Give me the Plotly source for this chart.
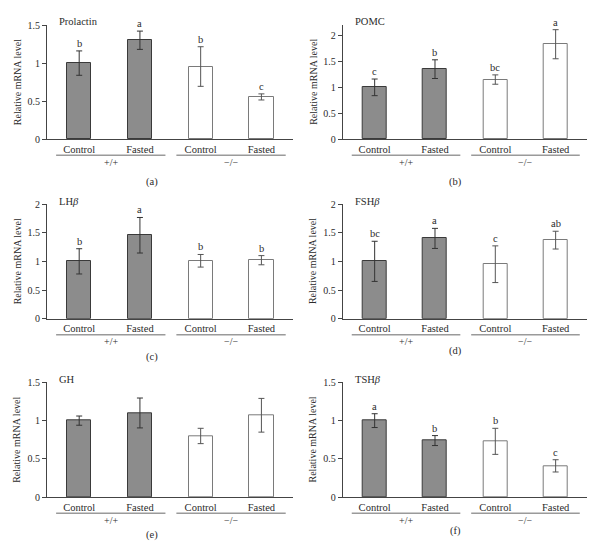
import plotly.graph_objects as go

# ---------------- data ----------------
categories = ["Control", "Fasted", "Control", "Fasted"]
genotypes = ["+/+", "\u2212/\u2212"]
panel_titles = ["Prolactin", "POMC", "LH<i>\u03b2</i>", "FSH<i>\u03b2</i>", "GH", "TSH<i>\u03b2</i>"]
panel_tags = ["(a)", "(b)", "(c)", "(d)", "(e)", "(f)"]

prolactin = [1.00, 1.30, 0.955, 0.556]
prolactin_err = [0.16, 0.12, 0.26, 0.04]
prolactin_sig = ["b", "a", "b", "c"]

pomc = [1.00, 1.35, 1.15, 1.83]
pomc_err = [0.16, 0.18, 0.09, 0.28]
pomc_sig = ["c", "b", "bc", "a"]

lhb = [1.00, 1.455, 1.01, 1.02]
lhb_err = [0.22, 0.31, 0.11, 0.08]
lhb_sig = ["b", "a", "b", "b"]

fshb = [1.00, 1.40, 0.95, 1.37]
fshb_err = [0.35, 0.175, 0.32, 0.155]
fshb_sig = ["bc", "a", "c", "ab"]

gh = [1.00, 1.10, 0.80, 1.07]
gh_err = [0.06, 0.195, 0.10, 0.22]
gh_sig = ["", "", "", ""]

tshb = [1.00, 0.74, 0.73, 0.41]
tshb_err = [0.09, 0.065, 0.17, 0.08]
tshb_sig = ["a", "b", "b", "c"]

y_max = [1.5, 2.2, 2.0, 2.0, 1.5, 1.5]

panels = [
    (prolactin, prolactin_err, prolactin_sig),
    (pomc, pomc_err, pomc_sig),
    (lhb, lhb_err, lhb_sig),
    (fshb, fshb_err, fshb_sig),
    (gh, gh_err, gh_sig),
    (tshb, tshb_err, tshb_sig),
]

# ---------------- layout geometry (page pixels) ----------------
OFF = 8  # default page body margin
W, H = 597 - 2 * OFF, 551 - 2 * OFF
col_px = [(47, 293), (342.7, 587)]
row_px = [(25, 139.3), (204, 318.7), (382.3, 497.3)]
tag_px = [(152, 182), (455, 182), (152, 357), (455, 351), (152, 535), (455, 531)]


def px(x):
    return (x - OFF) / W


def py(y):
    return 1 - (y - OFF) / H


FONT = "Liberation Serif, Times New Roman, serif"
TXT = "#2b2b2b"
AX = "#444444"

fig = go.Figure()
layout = dict(
    width=W, height=H, margin=dict(l=0, r=0, t=0, b=0),
    paper_bgcolor="white", plot_bgcolor="white", showlegend=False,
    font=dict(family=FONT, size=10.5, color=TXT),
)
annotations = []
shapes = []

for i, (vals, errs, sig) in enumerate(panels):
    r, c = divmod(i, 2)
    n = i + 1
    xa = "x" if n == 1 else f"x{n}"
    ya = "y" if n == 1 else f"y{n}"
    x0, x1 = col_px[c]
    ytop, ybot = row_px[r]
    layout[f"xaxis{'' if n == 1 else n}"] = dict(
        domain=[px(x0), px(x1)], anchor=ya, range=[-0.53, 3.52],
        tickmode="array", tickvals=[0, 1, 2, 3], ticktext=categories,
        showline=True, linecolor=AX, linewidth=1, ticks="", showgrid=False,
        zeroline=False, tickfont=dict(family=FONT, size=10.5, color=TXT),
        fixedrange=True, automargin=False,
    )
    layout[f"yaxis{'' if n == 1 else n}"] = dict(
        domain=[py(ybot), py(ytop)], anchor=xa, range=[0, y_max[i]],
        dtick=0.5, showline=True, linecolor=AX, linewidth=1, ticks="outside",
        ticklen=4, tickcolor=AX, showgrid=False, zeroline=False,
        tickfont=dict(family=FONT, size=10, color=TXT), fixedrange=True,
        automargin=False,
    )
    # wild type (+/+) bars
    fig.add_trace(go.Bar(
        x=[0, 1], y=vals[:2], width=0.4, xaxis=xa, yaxis=ya,
        marker=dict(color="#8c8c8c", line=dict(color="#3a3a3a", width=1)),
        error_y=dict(type="data", array=errs[:2], color="#333333", thickness=1, width=3),
    ))
    # knockout (-/-) bars
    fig.add_trace(go.Bar(
        x=[2, 3], y=vals[2:], width=0.4, xaxis=xa, yaxis=ya,
        marker=dict(color="white", line=dict(color="#7a7a7a", width=1)),
        error_y=dict(type="data", array=errs[2:], color="#555555", thickness=1, width=3),
    ))
    # significance letters
    for k in range(4):
        if sig[k]:
            annotations.append(dict(
                x=k, y=vals[k] + errs[k], xref=xa, yref=ya, text=sig[k],
                showarrow=False, yanchor="bottom", yshift=0,
                font=dict(family=FONT, size=10.5, color=TXT),
            ))
    # panel title
    annotations.append(dict(
        x=px(x0 + 10), y=py(ytop - 3), xref="paper", yref="paper",
        text=panel_titles[i], showarrow=False, xanchor="left", yanchor="middle",
        font=dict(family=FONT, size=10.5, color=TXT),
    ))
    # y-axis title
    annotations.append(dict(
        x=px(x0 - 30), y=py((ytop + ybot) / 2), xref="paper", yref="paper",
        text="Relative mRNA level", textangle=-90, showarrow=False,
        xanchor="center", yanchor="middle",
        font=dict(family=FONT, size=10, color=TXT),
    ))
    # genotype group underlines and labels
    for g, (ga, gb) in enumerate([(-0.38, 1.42), (1.60, 3.40)]):
        shapes.append(dict(
            type="line", xref=xa, yref="paper", x0=ga, x1=gb,
            y0=py(ybot + 16), y1=py(ybot + 16),
            line=dict(color="#9a9a9a", width=1.5),
        ))
        annotations.append(dict(
            x=(ga + gb) / 2, y=py(ybot + 23), xref=xa, yref="paper",
            text=genotypes[g], showarrow=False, xanchor="center", yanchor="middle",
            font=dict(family=FONT, size=10, color=TXT),
        ))
    # panel tag
    tx, ty = tag_px[i]
    annotations.append(dict(
        x=px(tx), y=py(ty), xref="paper", yref="paper", text=panel_tags[i],
        showarrow=False, xanchor="center", yanchor="middle",
        font=dict(family=FONT, size=10.5, color=TXT),
    ))

layout["annotations"] = annotations
layout["shapes"] = shapes
layout["bargap"] = 0
fig.update_layout(**layout)
fig.write_html("out.html")
